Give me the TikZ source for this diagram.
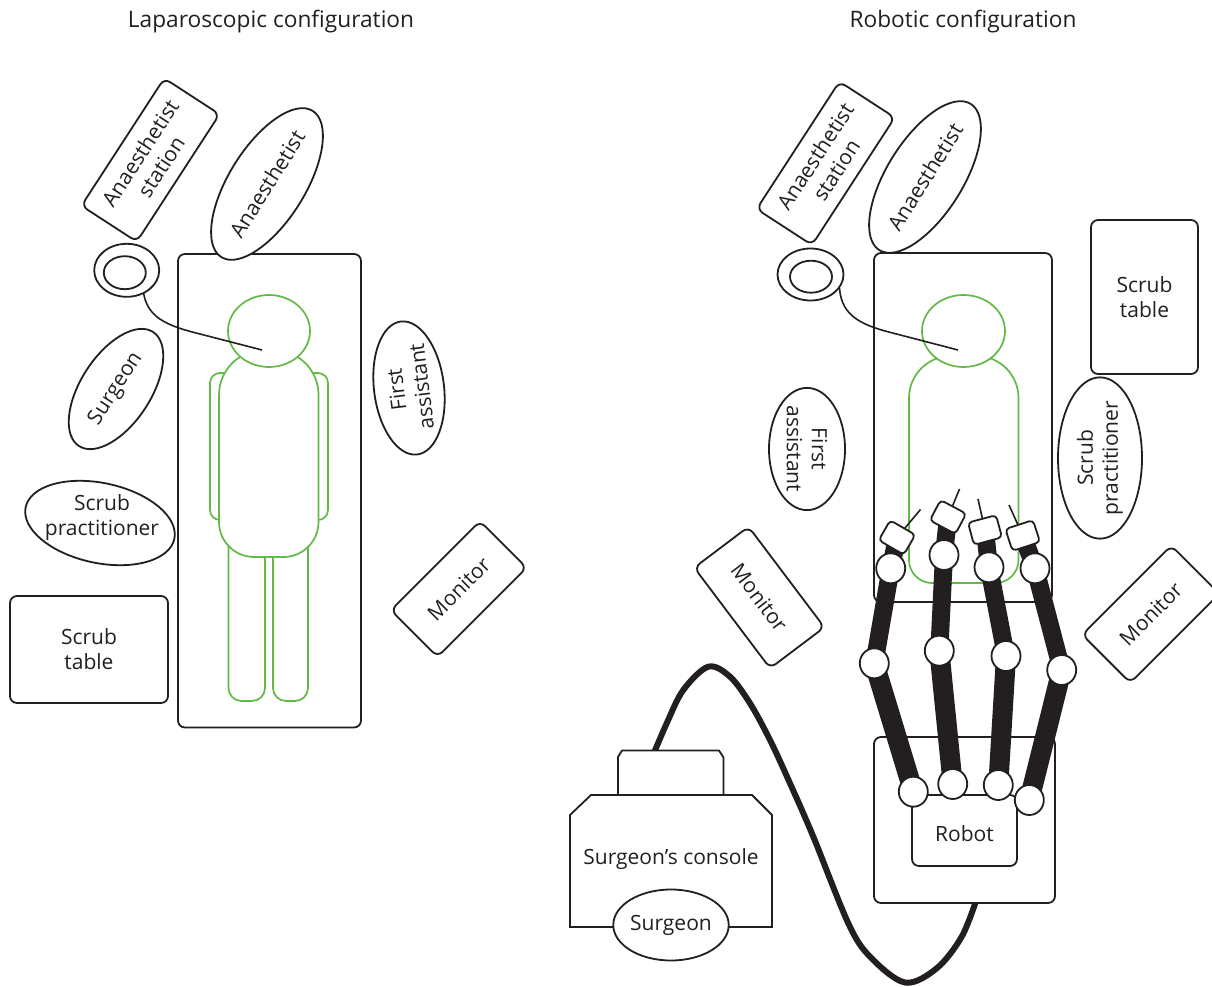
\documentclass[tikz,border=0pt]{standalone}
\usepackage{fontspec}
\setmainfont{Open Sans}
\usetikzlibrary{shapes.geometric}
\definecolor{ink}{RGB}{35,31,32}
\definecolor{pgreen}{RGB}{98,186,70}
\pgfdeclarelayer{bg}
\pgfdeclarelayer{mid}
\pgfsetlayers{bg,mid,main}
\begin{document}
\begin{tikzpicture}[x=1pt,y=-1pt,
  every node/.style={font=\fontsize{21}{25}\selectfont, text=ink, align=center, inner sep=0pt},
  titlefont/.style={font=\fontsize{22.7}{27}\selectfont},
  outl/.style={draw=ink, line width=1.8pt},
  box/.style={outl, rectangle, rounded corners=7pt, fill=white},
  oval/.style={outl, ellipse, fill=white},
  body/.style={draw=pgreen, line width=1.7pt, fill=white},
  link/.style={draw=ink, line width=#1, line join=round},
  joint/.style={outl, ellipse, fill=white, minimum width=29pt, minimum height=30pt},
  tool/.style={outl, rectangle, rounded corners=4pt, fill=white,
               minimum width=29pt, minimum height=23pt},
  cable/.style={draw=ink, line width=6pt},
  wire/.style={draw=ink, line width=1.6pt}
]
\useasboundingbox (0,0) rectangle (1212,987);

% ---------- titles ----------
\node[titlefont] (titL) at (271,22) {Laparoscopic configuration};
\node[titlefont] (titR) at (963,22) {Robotic configuration};

% ---------- background layer ----------
\begin{pgfonlayer}{bg}
  % left bed and patient
  \node[box, minimum width=183pt, minimum height=473.5pt] (bedL) at (269.5,490.75) {};
  \draw[body, rounded corners=13pt] (228.5,520) rectangle (265,701);
  \draw[body, rounded corners=13pt] (273,520) rectangle (308,701);
  \draw[body, rounded corners=10pt] (210,373) rectangle (234,520);
  \draw[body, rounded corners=10pt] (304,373) rectangle (328,520);
  \draw[body] (219,395) .. controls (219,370.1) and (239.1,350) .. (264,350)
     -- (273.5,350) .. controls (298.4,350) and (318.5,370.1) .. (318.5,395)
     -- (318.5,522) .. controls (318.5,541.3) and (302.8,557) .. (283.5,557)
     -- (254,557) .. controls (234.7,557) and (219,541.3) .. (219,522) -- cycle;
  \node[body, ellipse, minimum width=82pt, minimum height=72pt] (headL) at (269,331) {};
  \coordinate (tubeL) at (143,288);
  \coordinate (mouthL) at (262,350);
  \draw[wire] (tubeL) .. controls (145,318) and (168,326) .. (200,334) -- (mouthL);

  % right bed and patient
  \node[box, minimum width=178pt, minimum height=349pt] (bedR) at (963,427.5) {};
  \draw[body] (909,398) .. controls (909,374.8) and (927.8,356) .. (951,356)
     -- (976.5,356) .. controls (999.7,356) and (1018.5,374.8) .. (1018.5,398)
     -- (1018.5,560) .. controls (1018.5,572.7) and (1008.2,583) .. (995.5,583)
     -- (932,583) .. controls (919.3,583) and (909,572.7) .. (909,560) -- cycle;
  \node[body, ellipse, minimum width=83pt, minimum height=72pt] (headR) at (963.5,331) {};
  \coordinate (tubeR) at (839.5,288);
  \coordinate (mouthR) at (958,350);
  \draw[wire] (tubeR) .. controls (841.5,318) and (864.5,326) .. (896.5,334) -- (mouthR);

  % cable from the surgeon's console to the robot
  \coordinate (cabA) at (651,760);
  \coordinate (cabB) at (977,898);
  \draw[cable] plot[smooth, tension=0.55] coordinates {(cabA) (666.7,723.3) (683.3,690) (708.3,666.7)
     (730,676.7) (750,703.3) (770,740) (790,783.3) (813.3,836.7) (848.3,923.3) (870,956.7)
     (905,982.5) (936.7,968.3) (961.7,936.7) (cabB)};

  % robot cart
  \node[box, minimum width=181pt, minimum height=166pt] (cart) at (964.5,820) {};
  \node[box, minimum width=105pt, minimum height=71pt] (robot) at (964.5,830.5) {};
  \node (robotT) at (964.5,834) {Robot};

  % surgeon's console
  \draw[outl, fill=white] (618,795) -- (618,757) -- (622,750.5) -- (719,750.5) -- (723.5,757.5) -- (723.5,795) -- cycle;
  \draw[outl, fill=white] (570,927) -- (570,815) -- (591,795) -- (752,795) -- (772,815) -- (772,927) -- cycle;
  \node (consT) at (671,859) {Surgeon’s console};
  \node[oval, minimum width=113pt, minimum height=71pt] (surgR) at (671,925) {Surgeon};
\end{pgfonlayer}

% ---------- robot arms (links) ----------
\begin{pgfonlayer}{mid}
  \coordinate (h1) at (897,537.5);  \coordinate (t1) at (890.7,568.3);
  \coordinate (m1) at (874.3,663.3); \coordinate (b1) at (913.3,791.7);
  \coordinate (i1) at (920.5,509.5);
  \coordinate (h2) at (948,517);    \coordinate (t2) at (944,555);
  \coordinate (m2) at (939.3,650.7); \coordinate (b2) at (952.7,784);
  \coordinate (i2) at (959.5,489);
  \coordinate (h3) at (985,530);    \coordinate (t3) at (989,567.3);
  \coordinate (m3) at (1006,656);   \coordinate (b3) at (998.3,785);
  \coordinate (i3) at (978,499);
  \coordinate (h4) at (1022.7,535.5); \coordinate (t4) at (1035,568.3);
  \coordinate (m4) at (1061.7,670); \coordinate (b4) at (1029.3,800);
  \coordinate (i4) at (1009,505);
  \foreach \k in {1,2,3,4}{
    \draw[link=18pt] (m\k) -- (t\k) -- (h\k);
    \draw[link=20pt] (m\k) -- (b\k);
    \draw[wire] (h\k) -- (i\k);
  }
\end{pgfonlayer}

% joints and instrument heads
\node[tool, rotate=-30] (tool1) at (h1) {};
\node[tool, rotate=-28] (tool2) at (h2) {};
\node[tool, rotate=15] (tool3) at (h3) {};
\node[tool, rotate=18] (tool4) at (h4) {};
\foreach \k in {1,2,3,4}{
  \node[joint] (jt\k) at (t\k) {};
  \node[joint] (jm\k) at (m\k) {};
  \node[joint] (jb\k) at (b\k) {};
}

% ---------- left configuration ----------
\node[box, minimum width=152pt, minimum height=66pt, rotate=57] (stationL) at (150.5,160) {Anaesthetist\\station};
\node[oval, minimum width=138pt, minimum height=76pt, rotate=58] (anaL) at (267,184) {Anaesthetist};
\node[oval, minimum width=65pt, minimum height=53pt] (machL) at (126.7,270.3) {};
\node[oval, minimum width=42pt, minimum height=33pt] (machLi) at (124.8,272.7) {};
\node[oval, minimum width=136pt, minimum height=70pt, rotate=57] (surgL) at (116,389) {Surgeon};
\node[oval, minimum width=134pt, minimum height=70pt, rotate=97] (faL) at (409,388) {First\\assistant};
\node[oval, minimum width=152pt, minimum height=80pt, rotate=-12] (spL) at (100,523) {};
\node (spLt) at (102,518) {Scrub\\practitioner};
\node[box, minimum width=158pt, minimum height=107pt] (stL) at (89,649.5) {Scrub\\table};
\node[box, minimum width=126pt, minimum height=66pt, rotate=45] (monL) at (458.75,589) {Monitor};

% ---------- right configuration ----------
\node[box, minimum width=152pt, minimum height=66pt, rotate=57] (stationR) at (825.7,163.3) {Anaesthetist\\station};
\node[oval, minimum width=140pt, minimum height=76pt, rotate=58] (anaR) at (925,177) {Anaesthetist};
\node[oval, minimum width=66pt, minimum height=52pt] (machR) at (810.5,274.5) {};
\node[oval, minimum width=42pt, minimum height=32pt] (machRi) at (811,276.7) {};
\node[box, minimum width=107pt, minimum height=154pt] (stR) at (1144.5,297) {Scrub\\table};
\node[oval, minimum width=118pt, minimum height=76pt, rotate=-90] (faR) at (807,449) {First\\assistant};
\node[oval, minimum width=142pt, minimum height=84pt, rotate=90] (spR) at (1100,458) {Scrub\\practitioner};
\node[box, minimum width=126pt, minimum height=68pt, rotate=-53] (monRL) at (759.3,597.5) {Monitor};
\node[box, minimum width=126pt, minimum height=68pt, rotate=45] (monRR) at (1150.8,614.2) {Monitor};
\end{tikzpicture}
\end{document}
